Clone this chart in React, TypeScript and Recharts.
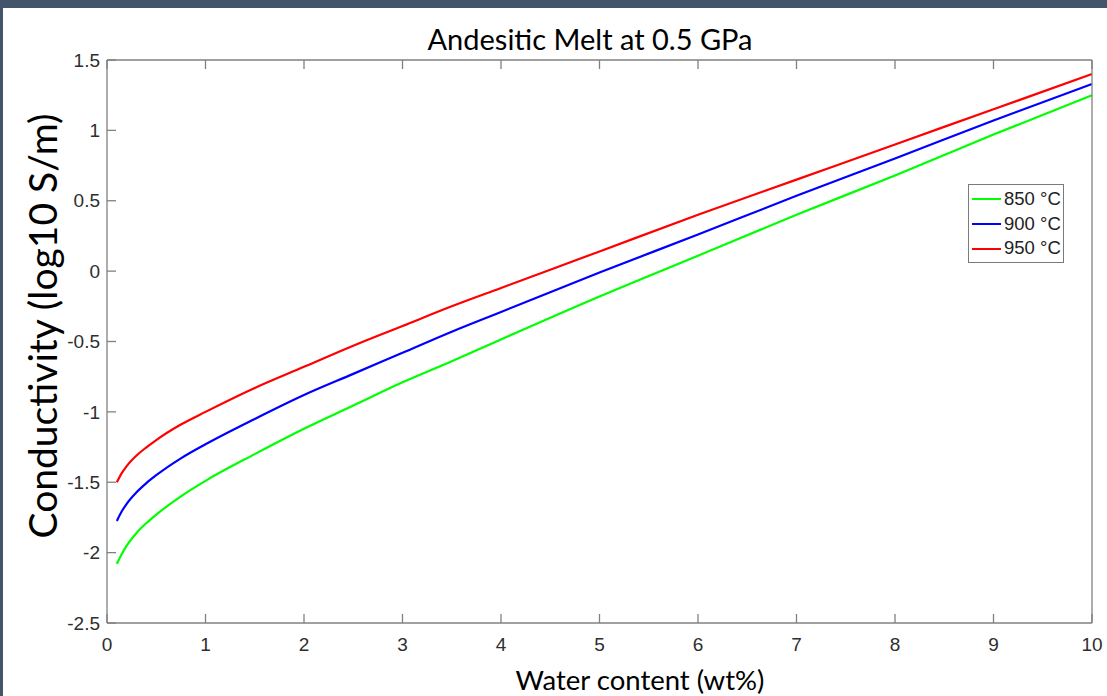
import React from 'react';
import { LineChart, Line, XAxis, YAxis } from 'recharts';

// Water content (wt%) at which conductivity was evaluated
const waterContent = [0.1, 0.15, 0.2, 0.3, 0.4, 0.5, 0.75, 1, 1.5, 2, 2.5, 3, 3.5, 4, 5, 6, 7, 8, 9, 10];

// log10 conductivity (S/m) for each isotherm
const cond850 = [-2.08, -2.01, -1.95, -1.86, -1.79, -1.73, -1.6, -1.49, -1.3, -1.12, -0.955, -0.79, -0.64, -0.485, -0.18, 0.11, 0.4, 0.68, 0.97, 1.25];
const cond900 = [-1.775, -1.706, -1.653, -1.571, -1.506, -1.45, -1.33, -1.23, -1.05, -0.88, -0.73, -0.58, -0.43, -0.29, -0.01, 0.26, 0.535, 0.8, 1.07, 1.33];
const cond950 = [-1.5, -1.435, -1.385, -1.31, -1.252, -1.2, -1.09, -1.0, -0.83, -0.68, -0.53, -0.39, -0.25, -0.12, 0.14, 0.4, 0.65, 0.9, 1.15, 1.4];

const seriesNames = ['850 °C', '900 °C', '950 °C'];
const seriesColors = ['#00ff00', '#0000ff', '#ff0000'];
const seriesKeys = ['t850', 't900', 't950'];

const xTicks = [0, 1, 2, 3, 4, 5, 6, 7, 8, 9, 10];
const yTicks = [-2.5, -2, -1.5, -1, -0.5, 0, 0.5, 1, 1.5];

const rows = waterContent.map((w, i) => ({
  w,
  t850: cond850[i],
  t900: cond900[i],
  t950: cond950[i],
}));

const axisColor = '#808080';
const tickFont = { fill: '#2e2e2e', fontSize: 19, fontFamily: 'Liberation Sans, Arial, sans-serif' };
const labelFont = 'Lato, "Open Sans", sans-serif';
const axisStroke = { stroke: axisColor, strokeWidth: 1.3 };

function LegendBox() {
  return (
    <div
      style={{
        position: 'absolute',
        left: 968,
        top: 184,
        border: '1px solid #7a7a7a',
        background: '#ffffff',
        width: 94,
        paddingTop: 2,
        paddingBottom: 1,
        fontFamily: 'Liberation Sans, Arial, sans-serif',
        fontSize: 18.5,
        color: '#222222',
      }}
    >
      {seriesNames.map((name, i) => (
        <div key={name} style={{ display: 'flex', alignItems: 'center', height: 24.7 }}>
          <span
            style={{
              display: 'inline-block',
              width: 29,
              height: 0,
              borderTop: `2px solid ${seriesColors[i]}`,
              marginLeft: 3,
              marginRight: 3,
            }}
          />
          <span style={{ lineHeight: 1, whiteSpace: 'nowrap' }}>{name}</span>
        </div>
      ))}
    </div>
  );
}

export default function App() {
  return (
    <div style={{ position: 'absolute', left: 0, top: 0, width: 1107, height: 696, background: '#44546a', overflow: 'hidden' }}>
      <div style={{ position: 'absolute', left: 3, top: 8, right: 0, bottom: 0, background: '#ffffff' }} />

      <div
        style={{
          position: 'absolute',
          left: 590,
          top: 24,
          transform: 'translateX(-50%)',
          fontFamily: labelFont,
          fontSize: 29,
          lineHeight: 1,
          color: '#000',
          whiteSpace: 'nowrap',
        }}
      >
        Andesitic Melt at 0.5 GPa
      </div>

      <div
        style={{
          position: 'absolute',
          left: 42,
          top: 326,
          transform: 'translate(-50%, -50%) rotate(-90deg)',
          fontFamily: labelFont,
          fontSize: 39,
          lineHeight: 1,
          color: '#000',
          whiteSpace: 'nowrap',
        }}
      >
        Conductivity (log10 S/m)
      </div>

      <div
        style={{
          position: 'absolute',
          left: 640,
          top: 666,
          transform: 'translateX(-50%)',
          fontFamily: labelFont,
          fontSize: 27.5,
          lineHeight: 1,
          color: '#000',
          whiteSpace: 'nowrap',
        }}
      >
        Water content (wt%)
      </div>

      <div style={{ position: 'absolute', left: 0, top: 0 }}>
        <LineChart width={1107} height={696} data={rows} margin={{ top: 59, right: 14, bottom: 43, left: 0 }}>
          <XAxis
            dataKey="w"
            type="number"
            domain={[0, 10]}
            ticks={xTicks}
            interval={0}
            height={30}
            tickSize={-9}
            tickMargin={24}
            tick={tickFont}
            axisLine={axisStroke}
            tickLine={axisStroke}
          />
          {/* box edges: top and right axes carry ticks but no labels */}
          <XAxis
            xAxisId="top"
            orientation="top"
            dataKey="w"
            type="number"
            domain={[0, 10]}
            ticks={xTicks}
            interval={0}
            height={1}
            tickSize={-9}
            tickFormatter={() => ''}
            axisLine={axisStroke}
            tickLine={axisStroke}
          />
          <YAxis
            type="number"
            domain={[-2.5, 1.5]}
            ticks={yTicks}
            interval={0}
            width={107}
            tickSize={-9}
            tickMargin={16}
            tick={tickFont}
            axisLine={axisStroke}
            tickLine={axisStroke}
          />
          <YAxis
            yAxisId="right"
            orientation="right"
            type="number"
            domain={[-2.5, 1.5]}
            ticks={yTicks}
            interval={0}
            width={1}
            tickSize={-9}
            tickFormatter={() => ''}
            axisLine={axisStroke}
            tickLine={axisStroke}
          />
          {seriesKeys.map((k, i) => (
            <Line
              key={k}
              dataKey={k}
              name={seriesNames[i]}
              type="monotone"
              stroke={seriesColors[i]}
              strokeWidth={2.2}
              dot={false}
              activeDot={false}
              isAnimationActive={false}
            />
          ))}
        </LineChart>
      </div>

      <LegendBox />
    </div>
  );
}
